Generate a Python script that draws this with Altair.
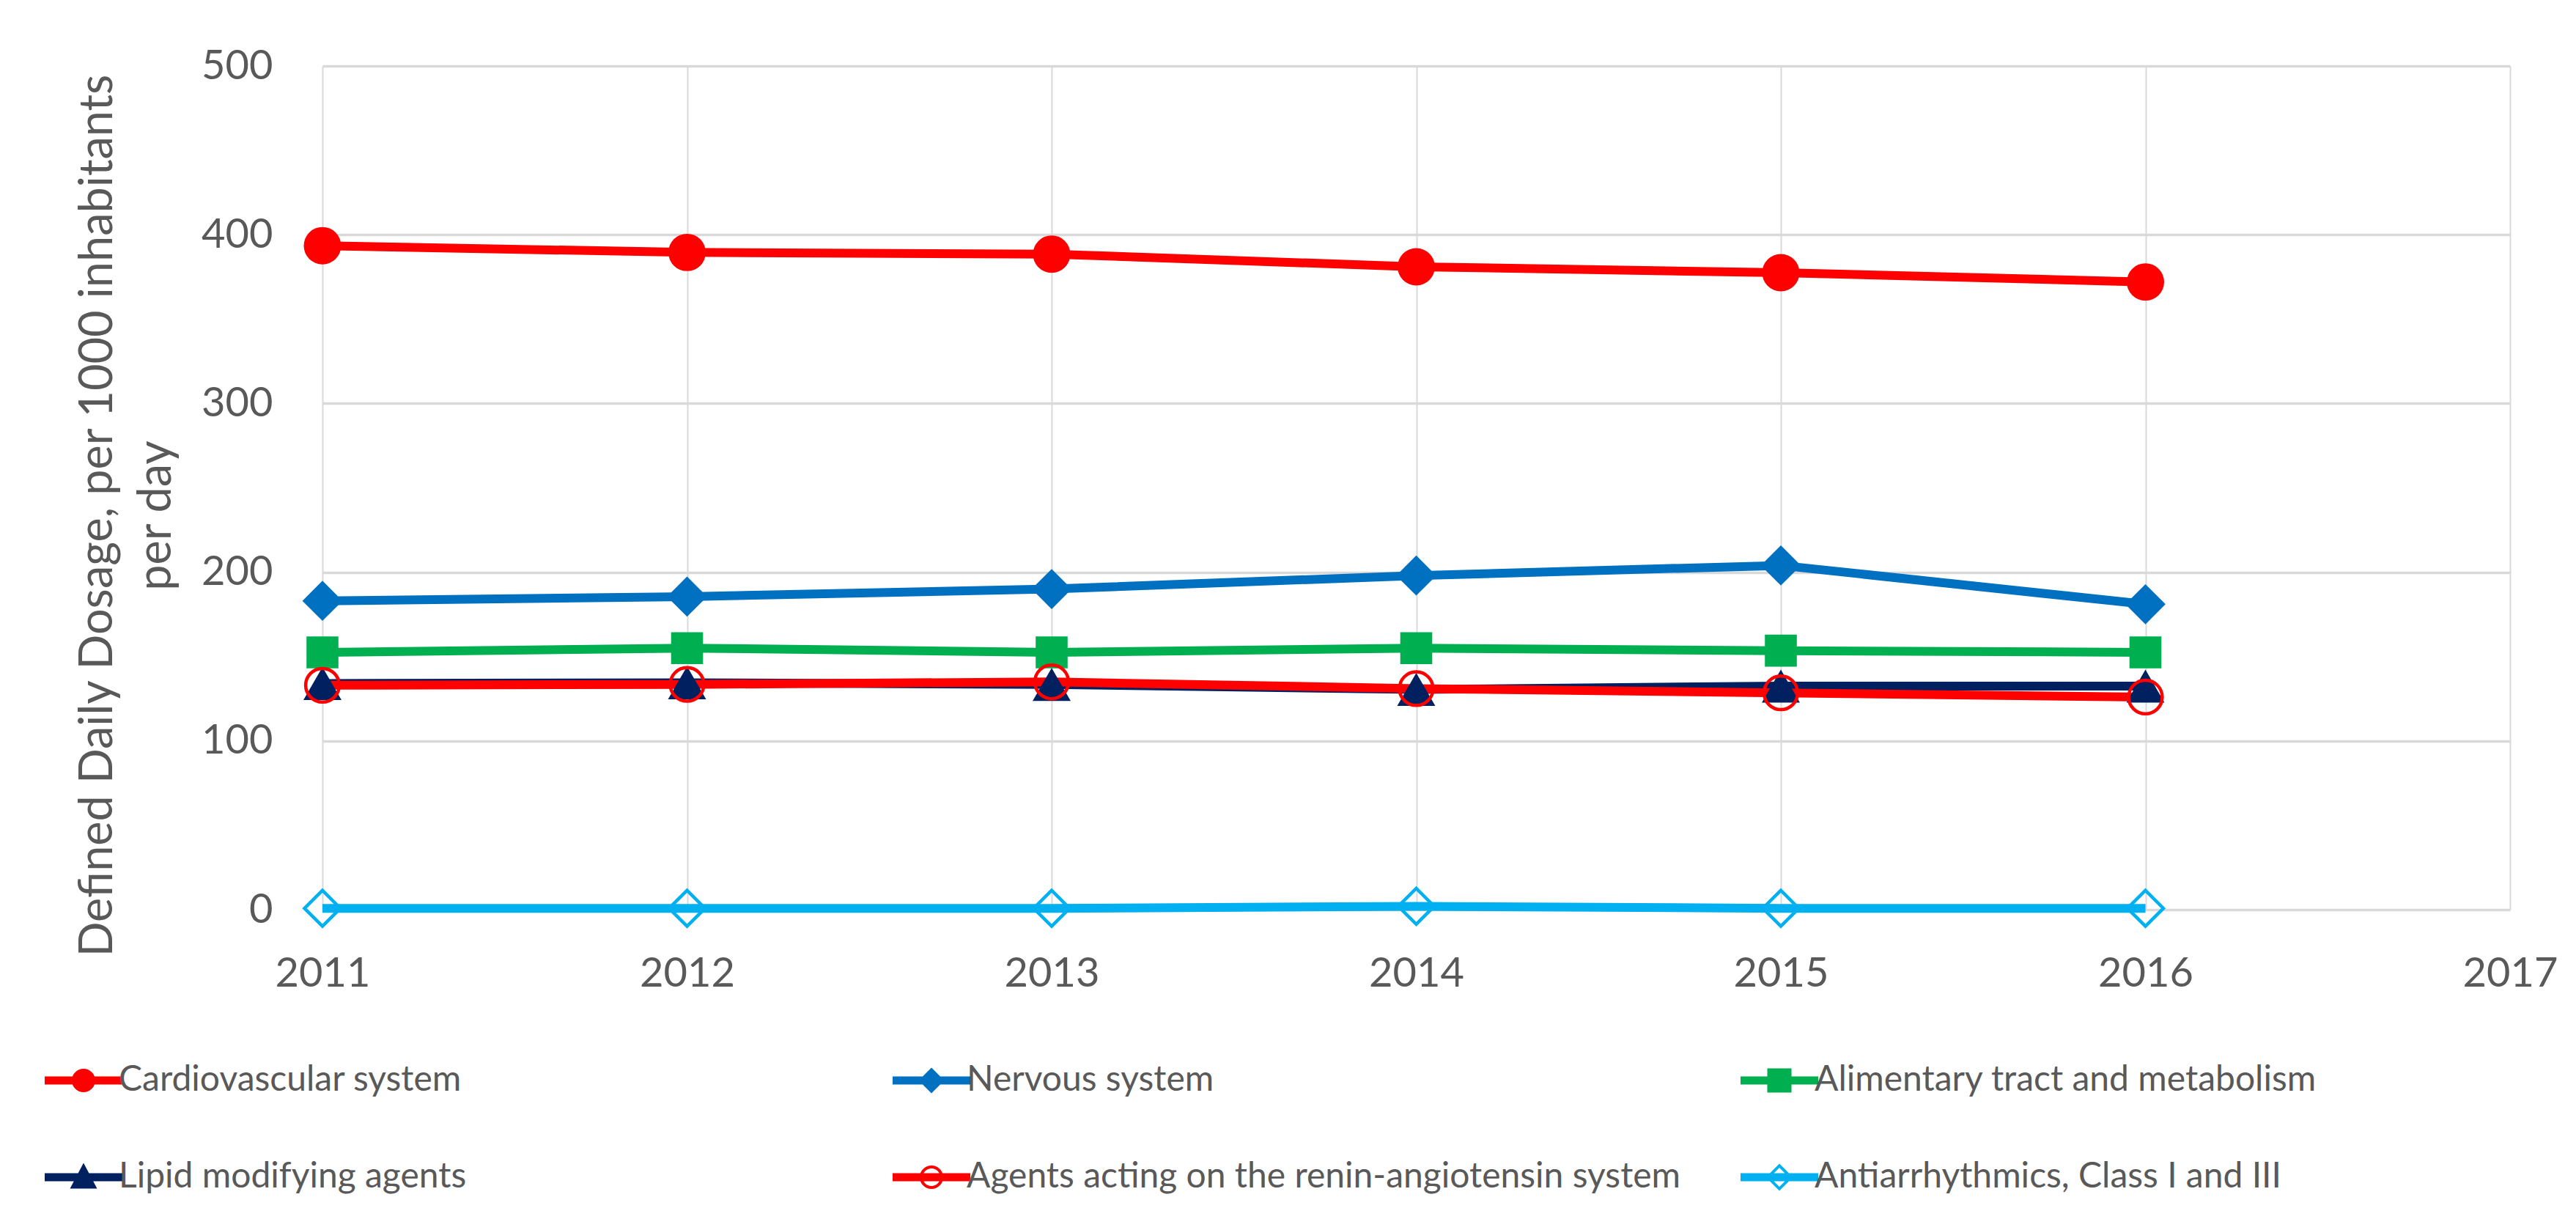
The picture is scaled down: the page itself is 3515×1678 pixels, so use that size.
import altair as alt
import pandas as pd

# ---------------- data ----------------
years = [2011, 2012, 2013, 2014, 2015, 2016]
x_ticks = [2011, 2012, 2013, 2014, 2015, 2016, 2017]
y_ticks = [0, 100, 200, 300, 400, 500]

series_names = [
    "Cardiovascular system",
    "Nervous system",
    "Alimentary tract and metabolism",
    "Lipid modifying agents",
    "Agents acting on the renin-angiotensin system",
    "Antiarrhythmics, Class I and III",
]
cardiovascular = [393.5, 389.5, 388.5, 381.0, 377.5, 372.0]
nervous = [183.0, 185.5, 190.0, 198.0, 204.0, 181.0]
alimentary = [152.5, 155.0, 152.5, 155.0, 153.5, 152.5]
lipid = [134.0, 134.5, 133.5, 130.5, 132.5, 132.5]
renin = [133.0, 133.5, 135.0, 131.0, 128.5, 126.0]
antiarrhythmics = [0.8, 0.8, 0.8, 2.0, 0.8, 0.8]

# ---------------- style ----------------
colors = ["#FF0000", "#0070C0", "#00B050", "#002060", "#FF0000", "#00B0F0"]
shapes = ["circle", "diamond", "square", "triangle-up", "circle", "diamond"]
filled_flags = [True, True, True, True, False, False]
sizes = [2600, 3000, 1900, 2700, 2100, 2400]

RECT = "M-5.3,-0.55H5.3V0.55H-5.3Z"
legend_paths = [
    RECT + "M1.6,0A1.6,1.6,0,1,1,-1.6,0A1.6,1.6,0,1,1,1.6,0Z",
    RECT + "M0,-1.75L1.75,0L0,1.75L-1.75,0Z",
    RECT + "M-1.65,-1.65H1.65V1.65H-1.65Z",
    RECT + "M0,-1.95L1.85,1.55H-1.85Z",
    RECT + "M1.6,0A1.6,1.6,0,1,1,-1.6,0A1.6,1.6,0,1,1,1.6,0Z"
    "M1.2,0A1.2,1.2,0,1,0,-1.2,0A1.2,1.2,0,1,0,1.2,0Z",
    RECT + "M0,-1.85L1.85,0L0,1.85L-1.85,0ZM0,-1.3L-1.3,0L0,1.3L1.3,0Z",
]

FONT = "Lato"
TEXT = "#595959"
GRID = "#D9D9D9"

all_values = [cardiovascular, nervous, alimentary, lipid, renin, antiarrhythmics]
rows = []
for name, vals in zip(series_names, all_values):
    for yr, v in zip(years, vals):
        rows.append({"series": name, "year": yr, "value": v})
df = pd.DataFrame(rows)

color_scale = alt.Scale(domain=series_names, range=colors)

x_enc = alt.X(
    "year:Q",
    scale=alt.Scale(domain=[2011, 2017], nice=False, zero=False),
    axis=alt.Axis(
        values=x_ticks, format="d", title=None, ticks=False, tickSize=0,
        domain=False, grid=True, gridColor=GRID, gridWidth=2, labelFlush=False,
        labelFont=FONT, labelFontSize=56, labelColor=TEXT, labelPadding=60,
    ),
)
y_enc = alt.Y(
    "value:Q",
    scale=alt.Scale(domain=[0, 500], nice=False),
    axis=alt.Axis(
        values=y_ticks, title=["Defined Daily Dosage, per 1000 inhabitants", "per day"],
        ticks=False, tickSize=0, domain=False, grid=True, gridColor=GRID, gridWidth=3.5,
        labelFlush=False,
        labelFont=FONT, labelFontSize=56, labelColor=TEXT, labelPadding=68,
        titleFont=FONT, titleFontSize=63, titleColor=TEXT, titleFontWeight="normal",
        titleAngle=270, titleAlign="center", titleBaseline="alphabetic",
        titleX=-288, titleY=613, titleLineHeight=80,
    ),
)

legend = alt.Legend(
    title=None, orient="none", legendX=-386, legendY=1360, direction="horizontal",
    columns=3, gridAlign="all", padding=0, offset=0,
    labelFont=FONT, labelFontSize=48, labelColor=TEXT, labelLimit=3000,
    symbolSize=400, symbolOffset=36, labelOffset=24, columnPadding=74, rowPadding=84,
    symbolStrokeWidth=0, symbolOpacity=1,
)

base = alt.Chart(df)

# legend-only layer (draws nothing, provides the legend); placed first so its legend wins
legend_layer = base.mark_point(filled=True, opacity=1, size=400).encode(
    x=x_enc, y=y_enc,
    color=alt.Color("series:N", scale=color_scale, legend=legend),
    shape=alt.Shape("series:N", scale=alt.Scale(domain=series_names, range=legend_paths), legend=legend),
).transform_filter("false")

lines = base.mark_line(strokeWidth=12).encode(
    x=x_enc, y=y_enc,
    color=alt.Color("series:N", scale=color_scale, legend=None),
    order="year:Q",
)

layers = [legend_layer, lines]
for name, shp, filled, sz in zip(series_names, shapes, filled_flags, sizes):
    if filled:
        mk = base.mark_point(filled=True, opacity=1, shape=shp, size=sz, strokeWidth=0)
    else:
        mk = base.mark_point(filled=False, opacity=1, shape=shp, size=sz, strokeWidth=4.5)
    layers.append(
        mk.encode(
            x=x_enc, y=y_enc,
            color=alt.Color("series:N", scale=color_scale, legend=None),
        ).transform_filter(alt.FieldEqualPredicate(field="series", equal=name))
    )

chart = alt.layer(*layers).properties(
    width=2985, height=1151,
    autosize=alt.AutoSizeParams(type="none"),
    padding={"left": 432, "top": 82, "right": 82, "bottom": 429},
    background="white",
).configure_view(stroke=None)

chart.save("out.html", embed_options={"renderer": "svg", "actions": False})
